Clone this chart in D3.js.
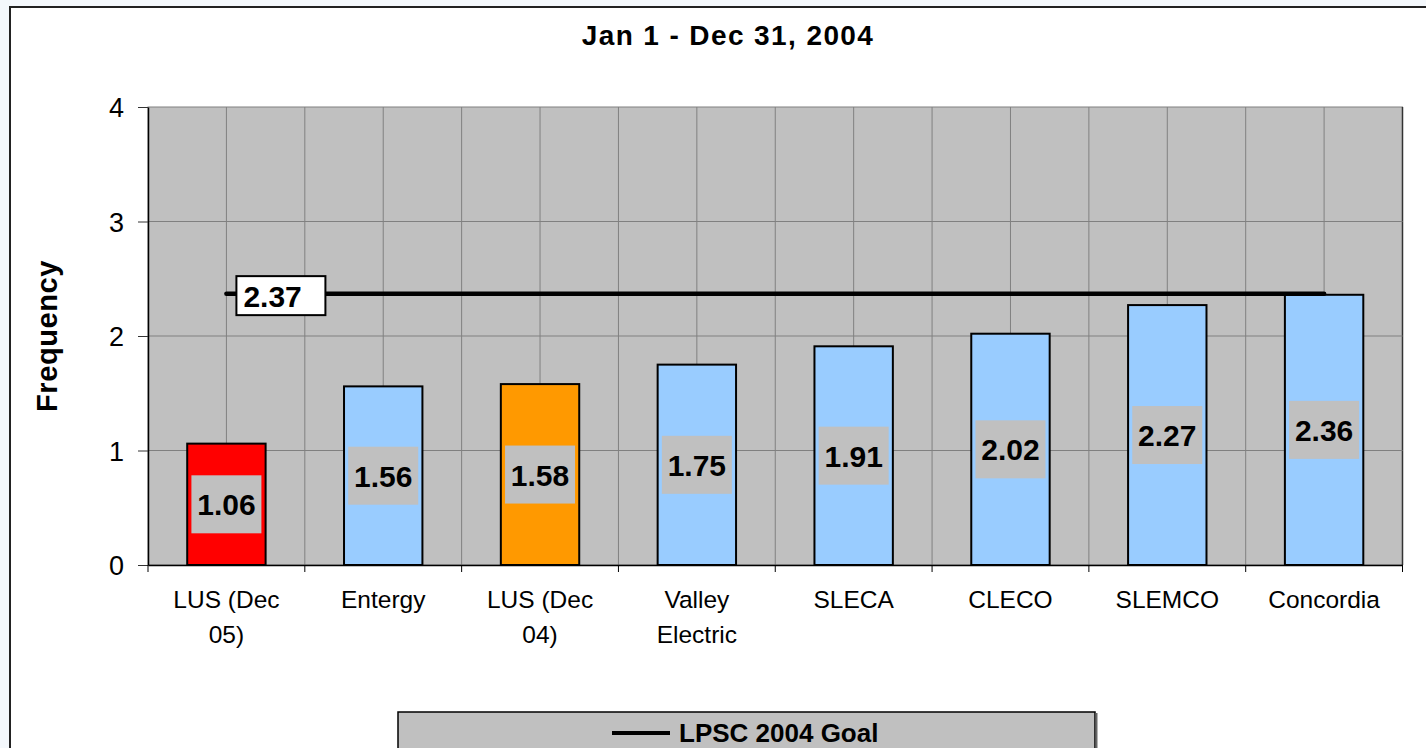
<!DOCTYPE html>
<html>
<head>
<meta charset="utf-8">
<script src="https://cdn.jsdelivr.net/npm/d3@7"></script>
<style>
body { margin: 0; background: #f4f8fc; overflow: hidden; }
text { font-family: "Liberation Sans", Arial, sans-serif; fill: #000; }
</style>
</head>
<body>
<div id="chart"></div>
<script>
// chart data
var chartTitle = "Jan 1 - Dec 31, 2004";
var categories = ["LUS (Dec\n05)", "Entergy", "LUS (Dec\n04)", "Valley\nElectric", "SLECA", "CLECO", "SLEMCO", "Concordia"];
var frequency = [1.06, 1.56, 1.58, 1.75, 1.91, 2.02, 2.27, 2.36];
var barColors = ["#ff0000", "#99ccff", "#ff9900", "#99ccff", "#99ccff", "#99ccff", "#99ccff", "#99ccff"];
var goalValue = 2.37;
var goalName = "LPSC 2004 Goal";
var yTicks = [0, 1, 2, 3, 4];

// svg params
var svgWidth = 1426;
var svgHeight = 748;

var margin = { top: 107, left: 148, right: 23.5, bottom: 183 };
var width = svgWidth - margin.left - margin.right;
var height = svgHeight - margin.top - margin.bottom;

var svg = d3.select("#chart")
	.append("svg")
	.attr("width", svgWidth)
	.attr("height", svgHeight);

// outer chart frame (runs off the right and bottom of the window)
svg.append("rect")
	.attr("x", 10)
	.attr("y", 7)
	.attr("width", 1440)
	.attr("height", 780)
	.attr("fill", "#fff")
	.attr("stroke", "#222")
	.attr("stroke-width", 2);

// title
svg.append("text")
	.attr("x", 728)
	.attr("y", 45)
	.attr("text-anchor", "middle")
	.style("font-size", "28px")
	.style("font-weight", "bold")
	.style("letter-spacing", "1.4px")
	.text(chartTitle);

var chartGroup = svg.append("g")
	.attr("transform", `translate(${margin.left}, ${margin.top})`);

// scales
var xScale = d3.scaleBand()
	.domain(categories)
	.range([0, width]);

var yScale = d3.scaleLinear()
	.domain([0, 4])
	.range([height, 0]);

var bw = xScale.bandwidth();

// plot area
chartGroup.append("rect")
	.attr("width", width)
	.attr("height", height)
	.attr("fill", "#c0c0c0")
	.attr("stroke", "#808080")
	.attr("stroke-width", 1);

chartGroup.append("line")
	.attr("x1", width).attr("x2", width)
	.attr("y1", 0).attr("y2", height)
	.attr("stroke", "#333")
	.attr("stroke-width", 1.5);

// horizontal gridlines
chartGroup.selectAll(".hgrid")
	.data(yTicks.filter(d => d > 0 && d < 4))
	.enter()
	.append("line")
	.attr("class", "hgrid")
	.attr("x1", 0).attr("x2", width)
	.attr("y1", d => yScale(d)).attr("y2", d => yScale(d))
	.attr("stroke", "#808080");

// vertical gridlines at category edges and centres
var vLines = [];
categories.forEach(function(c, i) {
	if (i > 0) vLines.push(xScale(c));
	vLines.push(xScale(c) + bw / 2);
});
chartGroup.selectAll(".vgrid")
	.data(vLines)
	.enter()
	.append("line")
	.attr("class", "vgrid")
	.attr("x1", d => d).attr("x2", d => d)
	.attr("y1", 0).attr("y2", height)
	.attr("stroke", "#808080");

// bars
chartGroup.selectAll(".bar")
	.data(frequency)
	.enter()
	.append("rect")
	.attr("class", "bar")
	.attr("x", (d, i) => xScale(categories[i]) + bw * 0.25)
	.attr("y", d => yScale(d))
	.attr("width", bw * 0.5)
	.attr("height", d => height - yScale(d))
	.attr("fill", (d, i) => barColors[i])
	.attr("stroke", "#000")
	.attr("stroke-width", 2);

// value labels in the middle of each bar
var labelGroup = chartGroup.selectAll(".valLabel")
	.data(frequency)
	.enter()
	.append("g")
	.attr("class", "valLabel")
	.attr("transform", (d, i) => `translate(${xScale(categories[i]) + bw / 2}, ${yScale(d / 2)})`);

labelGroup.append("rect")
	.attr("x", -35)
	.attr("y", -29)
	.attr("width", 70)
	.attr("height", 58)
	.attr("fill", "#c0c0c0");

labelGroup.append("text")
	.attr("text-anchor", "middle")
	.attr("y", 11)
	.style("font-size", "30px")
	.style("font-weight", "bold")
	.text(d => d.toFixed(2));

// goal line
var goalX1 = xScale(categories[0]) + bw / 2;
var goalX2 = xScale(categories[categories.length - 1]) + bw / 2;
chartGroup.append("line")
	.attr("x1", goalX1).attr("x2", goalX2)
	.attr("y1", yScale(goalValue)).attr("y2", yScale(goalValue))
	.attr("stroke", "#000")
	.attr("stroke-width", 4.5)
	.attr("stroke-linecap", "round");

var goalLabel = chartGroup.append("g")
	.attr("transform", `translate(${goalX1 + 10}, ${yScale(goalValue) + 2})`);
goalLabel.append("rect")
	.attr("x", 0).attr("y", -19.5)
	.attr("width", 89).attr("height", 39)
	.attr("fill", "#fff")
	.attr("stroke", "#000")
	.attr("stroke-width", 2);
goalLabel.append("text")
	.attr("x", 7)
	.attr("y", 11)
	.style("font-size", "30px")
	.style("font-weight", "bold")
	.text(goalValue.toFixed(2));

// y axis
var leftAxis = d3.axisLeft(yScale)
	.tickValues(yTicks)
	.tickSize(10)
	.tickSizeOuter(0)
	.tickPadding(14)
	.tickFormat(d3.format("d"));

var yAxisG = chartGroup.append("g").call(leftAxis);
yAxisG.select(".domain").attr("stroke", "#000").attr("stroke-width", 1.5);
yAxisG.selectAll(".tick line").attr("stroke", "#333");
yAxisG.selectAll("text")
	.style("font-size", "27px")
	.style("font-family", "'Liberation Sans', Arial, sans-serif")
	.attr("dy", "0.36em");

// x axis
var bottomAxis = d3.axisBottom(xScale).tickSize(0).tickFormat("");
var xAxisG = chartGroup.append("g")
	.attr("transform", `translate(0, ${height})`)
	.call(bottomAxis);
xAxisG.select(".domain").attr("stroke", "#000").attr("stroke-width", 1.5);

// tick marks sit between categories
xAxisG.selectAll(".edgeTick")
	.data(categories.map(c => xScale(c)).concat([width]))
	.enter()
	.append("line")
	.attr("class", "edgeTick")
	.attr("x1", d => d).attr("x2", d => d)
	.attr("y1", 0).attr("y2", 7)
	.attr("stroke", "#000");

var xLabels = xAxisG.selectAll(".xLabel")
	.data(categories)
	.enter()
	.append("text")
	.attr("class", "xLabel")
	.attr("text-anchor", "middle")
	.attr("transform", d => `translate(${xScale(d) + bw / 2}, 43)`)
	.style("font-size", "24.5px");

xLabels.selectAll("tspan")
	.data(d => d.split("\n"))
	.enter()
	.append("tspan")
	.attr("x", 0)
	.attr("dy", (d, i) => i === 0 ? 0 : 35)
	.text(d => d);

// y axis title
svg.append("text")
	.attr("transform", "translate(57, 336) rotate(-90)")
	.attr("text-anchor", "middle")
	.style("font-size", "29px")
	.style("font-weight", "bold")
	.style("letter-spacing", "0.6px")
	.text("Frequency");

// legend
var legend = svg.append("g");
legend.append("rect")
	.attr("x", 398)
	.attr("y", 712)
	.attr("width", 697)
	.attr("height", 70)
	.attr("fill", "#c0c0c0")
	.attr("stroke", "#000")
	.attr("stroke-width", 1.5);
legend.append("line")
	.attr("x1", 1096.5).attr("x2", 1096.5)
	.attr("y1", 713).attr("y2", 748)
	.attr("stroke", "#666")
	.attr("stroke-width", 2);
legend.append("line")
	.attr("x1", 612).attr("x2", 670)
	.attr("y1", 733).attr("y2", 733)
	.attr("stroke", "#000")
	.attr("stroke-width", 4);
legend.append("text")
	.attr("x", 679)
	.attr("y", 742)
	.style("font-size", "26px")
	.style("font-weight", "bold")
	.text(goalName);
</script>
</body>
</html>
